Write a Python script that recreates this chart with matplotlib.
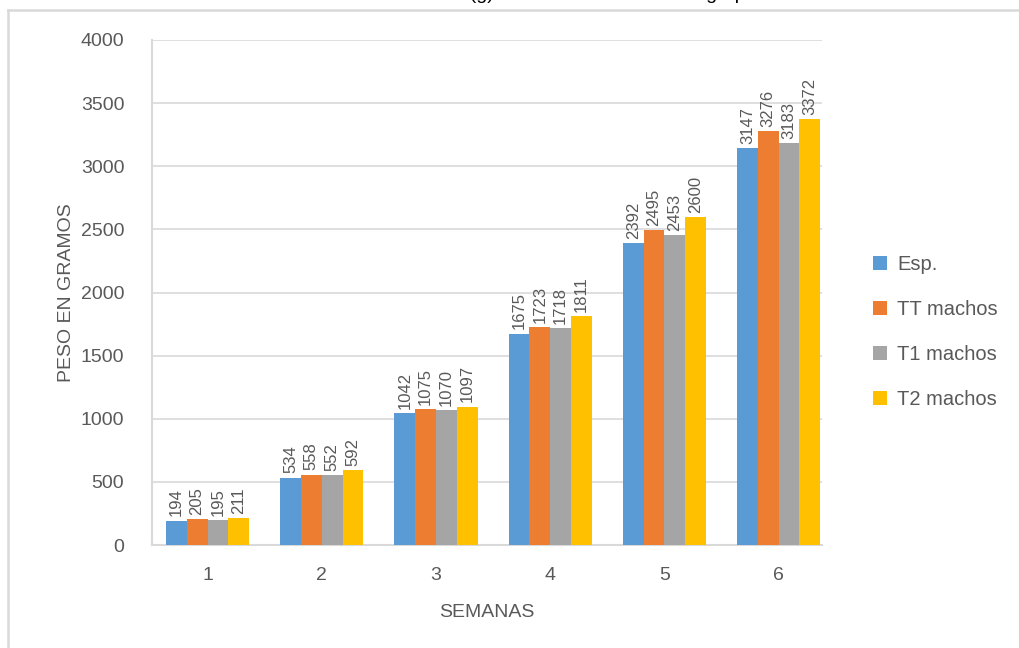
import matplotlib.pyplot as plt
import numpy as np
from matplotlib.lines import Line2D

semanas = ['1', '2', '3', '4', '5', '6']
series = ['Esp.', 'TT machos', 'T1 machos', 'T2 machos']
esp = [194, 534, 1042, 1675, 2392, 3147]
tt_machos = [205, 558, 1075, 1723, 2495, 3276]
t1_machos = [195, 552, 1070, 1718, 2453, 3183]
t2_machos = [211, 592, 1097, 1811, 2600, 3372]
colores = ['#5B9BD5', '#ED7D31', '#A5A5A5', '#FFC000']

plt.rcParams['font.family'] = ['Liberation Sans', 'DejaVu Sans']
gris = '#595959'

fig = plt.figure(figsize=(10.2, 6.48), dpi=100)
ax = fig.add_axes([152 / 1020, 103 / 648, 670 / 1020, 505 / 648])

x = np.arange(len(semanas))
ancho = 0.182
for i, (nombre, vals) in enumerate(zip(series, [esp, tt_machos, t1_machos, t2_machos])):
    pos = x + (i - 1.5) * ancho
    barras = ax.bar(pos, vals, ancho, color=colores[i], label=nombre, zorder=3)
    for b, v in zip(barras, vals):
        ax.annotate(str(v), (b.get_x() + b.get_width() / 2, v),
                    xytext=(0, 3), textcoords='offset points',
                    rotation=90, ha='center', va='bottom',
                    fontsize=12, color=gris)

ax.set_xlim(-0.486, 5.38)
ax.set_ylim(0, 4000)
ax.set_yticks(range(0, 4001, 500))
ax.set_xticks(x)
ax.set_xticklabels(semanas)
ax.yaxis.grid(True, color='#d9d9d9', lw=1.2, zorder=0)
ax.tick_params(axis='both', length=0, colors=gris, labelsize=14)
ax.tick_params(axis='x', pad=16)
ax.tick_params(axis='y', pad=20)
for s in ['top', 'right']:
    ax.spines[s].set_visible(False)
for s in ['left', 'bottom']:
    ax.spines[s].set_color('#d9d9d9')
    ax.spines[s].set_linewidth(1.5)

ax.set_ylabel('PESO EN GRAMOS', fontsize=14, color=gris, labelpad=4)
ax.set_xlabel('SEMANAS', fontsize=14, color=gris, labelpad=14)

fig.legend(loc='center left', bbox_to_anchor=(855 / 1020, 1 - 332 / 648),
           frameon=False, fontsize=14.5, labelcolor=gris,
           handlelength=0.7, handleheight=0.7, handletextpad=0.5,
           labelspacing=1.3)

fig.text(0.537, 1 + 1 / 648, 'Peso semanal (g) de los machos en cada grupo',
         ha='center', va='baseline', fontsize=14, color='black')

# marco del gráfico
borde = '#d9d9d9'
fig.add_artist(Line2D([8.5 / 1020, 1], [1 - 9.5 / 648] * 2, color=borde, lw=1.8))
fig.add_artist(Line2D([8.5 / 1020] * 2, [0, 1 - 9.5 / 648], color=borde, lw=1.8))

fig.savefig('out.png', dpi=100)
